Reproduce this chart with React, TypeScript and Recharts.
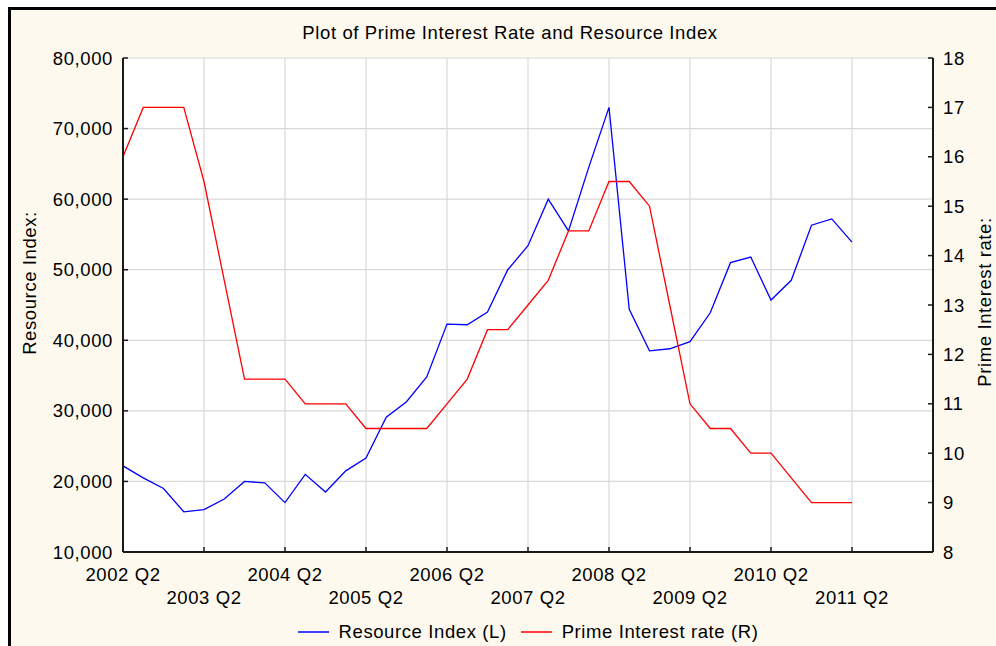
import React from 'react';
import { ComposedChart, Line, XAxis, YAxis, CartesianGrid, Legend } from 'recharts';

const quarters = [
  '2002 Q2', '2002 Q3', '2002 Q4', '2003 Q1', '2003 Q2', '2003 Q3', '2003 Q4', '2004 Q1',
  '2004 Q2', '2004 Q3', '2004 Q4', '2005 Q1', '2005 Q2', '2005 Q3', '2005 Q4', '2006 Q1',
  '2006 Q2', '2006 Q3', '2006 Q4', '2007 Q1', '2007 Q2', '2007 Q3', '2007 Q4', '2008 Q1',
  '2008 Q2', '2008 Q3', '2008 Q4', '2009 Q1', '2009 Q2', '2009 Q3', '2009 Q4', '2010 Q1',
  '2010 Q2', '2010 Q3', '2010 Q4', '2011 Q1', '2011 Q2',
];

const resourceIndex = [
  22200, 20500, 19000, 15700, 16000, 17500, 20000, 19800,
  17000, 21000, 18500, 21500, 23300, 29100, 31300, 34800,
  42300, 42200, 44000, 50000, 53400, 60000, 55500, 64500,
  73000, 44400, 38500, 38800, 39800, 43900, 51000, 51800,
  45700, 48500, 56300, 57200, 53900,
];

const primeRate = [
  16, 17, 17, 17, 15.5, 13.5, 11.5, 11.5,
  11.5, 11, 11, 11, 10.5, 10.5, 10.5, 10.5,
  11, 11.5, 12.5, 12.5, 13, 13.5, 14.5, 14.5,
  15.5, 15.5, 15, 13, 11, 10.5, 10.5, 10,
  10, 9.5, 9, 9, 9,
];

const xTickLabels = [
  '2002 Q2', '2003 Q2', '2004 Q2', '2005 Q2', '2006 Q2',
  '2007 Q2', '2008 Q2', '2009 Q2', '2010 Q2', '2011 Q2',
];
// axis runs to 2012 Q2 (index 40), unlabeled
const xAxisEnd = 40;

const leftTicks = [10000, 20000, 30000, 40000, 50000, 60000, 70000, 80000];
const rightTicks = [8, 9, 10, 11, 12, 13, 14, 15, 16, 17, 18];

const seriesNames = ['Resource Index (L)', 'Prime Interest rate (R)'];
const seriesColors = ['#0000ff', '#ff0000'];

const data = quarters.map((q, i) => ({ i, q, resource: resourceIndex[i], prime: primeRate[i] }));
const xTicks = [...xTickLabels.map((l) => quarters.indexOf(l)), xAxisEnd];

const FONT = "'Liberation Sans', Arial, sans-serif";
const FS = 18.5;
const LS = 0.6;
const AXIS = '#1a1a1a';

const labelFor = (v: number) => (v < quarters.length ? quarters[v] : '');

const BottomTick = (props: any) => {
  const { x, y, payload } = props;
  const v = payload.value as number;
  const row = Math.round(v / 4) % 2;
  return (
    <g>
      <line x1={x} y1={y} x2={x} y2={y - 5} stroke={AXIS} strokeWidth={1.5} />
      <text
        x={x}
        y={y + (row ? 52 : 29)}
        textAnchor="middle"
        fontFamily={FONT}
        fontSize={FS}
        letterSpacing={LS}
        fill="#000"
      >
        {labelFor(v)}
      </text>
    </g>
  );
};

const TopTick = (props: any) => {
  const { x, y } = props;
  return <line x1={x} y1={y} x2={x} y2={y + 5} stroke={AXIS} strokeWidth={1.5} />;
};

const LeftTick = (props: any) => {
  const { x, y, payload } = props;
  return (
    <g>
      <line x1={x} y1={y} x2={x + 5} y2={y} stroke={AXIS} strokeWidth={1.5} />
      <text
        x={x - 10}
        y={y + 6.5}
        textAnchor="end"
        fontFamily={FONT}
        fontSize={FS}
        letterSpacing={LS}
        fill="#000"
      >
        {Number(payload.value).toLocaleString('en-US')}
      </text>
    </g>
  );
};

const RightTick = (props: any) => {
  const { x, y, payload } = props;
  return (
    <g>
      <line x1={x - 5} y1={y} x2={x} y2={y} stroke={AXIS} strokeWidth={1.5} />
      <text
        x={x + 10}
        y={y + 6.5}
        textAnchor="start"
        fontFamily={FONT}
        fontSize={FS}
        letterSpacing={LS}
        fill="#000"
      >
        {payload.value}
      </text>
    </g>
  );
};

const LegendContent = () => (
  <div
    style={{
      display: 'flex',
      justifyContent: 'center',
      alignItems: 'center',
      height: 24,
      fontFamily: FONT,
      fontSize: FS,
      letterSpacing: LS,
      color: '#000',
    }}
  >
    {seriesNames.map((n, k) => (
      <div key={n} style={{ display: 'flex', alignItems: 'center', marginLeft: k ? 14 : 0 }}>
        <svg width={31} height={4} style={{ marginRight: 10 }}>
          <line x1={0} y1={2} x2={31} y2={2} stroke={seriesColors[k]} strokeWidth={1.5} />
        </svg>
        <span>{n}</span>
      </div>
    ))}
  </div>
);

export default function App() {
  return (
    <div>
      <div
        style={{
          position: 'absolute',
          left: 8,
          top: 7,
          width: 985,
          height: 636,
          borderLeft: '3px solid #000',
          borderTop: '3px solid #000',
          background: '#fdf9ef',
        }}
      />
      <div
        style={{
          position: 'absolute',
          left: 510,
          top: 33,
          transform: 'translate(-50%, -50%)',
          fontFamily: FONT,
          fontSize: FS,
          letterSpacing: LS,
          whiteSpace: 'nowrap',
          color: '#000',
        }}
      >
        Plot of Prime Interest Rate and Resource Index
      </div>
      <div
        style={{
          position: 'absolute',
          left: 30,
          top: 283,
          transform: 'translate(-50%, -50%) rotate(-90deg)',
          fontFamily: FONT,
          fontSize: FS,
          letterSpacing: LS,
          whiteSpace: 'nowrap',
          color: '#000',
        }}
      >
        Resource Index:
      </div>
      <div
        style={{
          position: 'absolute',
          left: 985,
          top: 302,
          transform: 'translate(-50%, -50%) rotate(-90deg)',
          fontFamily: FONT,
          fontSize: FS,
          letterSpacing: LS,
          lineHeight: '20px',
          whiteSpace: 'nowrap',
          color: '#000',
        }}
      >
        Prime Interest rate:
      </div>
      <div style={{ position: 'absolute', left: 0, top: 0 }}>
        <ComposedChart
          width={996}
          height={646}
          data={data}
          margin={{ top: 58, right: 10, bottom: 10, left: 10 }}
        >
          <CartesianGrid
            xAxisId="bottom"
            yAxisId="left"
            stroke="#d9d9d9"
            strokeWidth={1.2}
            fill="#ffffff"
            fillOpacity={1}
          />
          <XAxis
            xAxisId="bottom"
            dataKey="i"
            type="number"
            domain={[0, xAxisEnd]}
            ticks={xTicks}
            interval={0}
            height={84}
            tickSize={0}
            tickMargin={0}
            tick={<BottomTick />}
            axisLine={{ stroke: AXIS, strokeWidth: 2 }}
            tickLine={false}
            allowDataOverflow
          />
          <XAxis
            xAxisId="top"
            orientation="top"
            dataKey="i"
            type="number"
            domain={[0, xAxisEnd]}
            ticks={xTicks}
            interval={0}
            height={0}
            tickSize={0}
            tickMargin={0}
            tick={<TopTick />}
            axisLine={{ stroke: AXIS, strokeWidth: 2 }}
            tickLine={false}
          />
          <YAxis
            yAxisId="left"
            orientation="left"
            width={113}
            domain={[10000, 80000]}
            ticks={leftTicks}
            interval={0}
            tickSize={0}
            tickMargin={0}
            tick={<LeftTick />}
            axisLine={{ stroke: AXIS, strokeWidth: 2 }}
            tickLine={false}
            allowDataOverflow
          />
          <YAxis
            yAxisId="right"
            orientation="right"
            width={53}
            domain={[8, 18]}
            ticks={rightTicks}
            interval={0}
            tickSize={0}
            tickMargin={0}
            tick={<RightTick />}
            axisLine={{ stroke: AXIS, strokeWidth: 2 }}
            tickLine={false}
            allowDataOverflow
          />
          <Legend
            layout="horizontal"
            verticalAlign="middle"
            align="center"
            content={<LegendContent />}
            wrapperStyle={{ top: 620, left: 123, width: 810 }}
          />
          <Line
            xAxisId="bottom"
            yAxisId="left"
            type="linear"
            dataKey="resource"
            name={seriesNames[0]}
            stroke={seriesColors[0]}
            strokeWidth={1.3}
            dot={false}
            activeDot={false}
            isAnimationActive={false}
          />
          <Line
            xAxisId="bottom"
            yAxisId="right"
            type="linear"
            dataKey="prime"
            name={seriesNames[1]}
            stroke={seriesColors[1]}
            strokeWidth={1.3}
            dot={false}
            activeDot={false}
            isAnimationActive={false}
          />
        </ComposedChart>
      </div>
    </div>
  );
}
